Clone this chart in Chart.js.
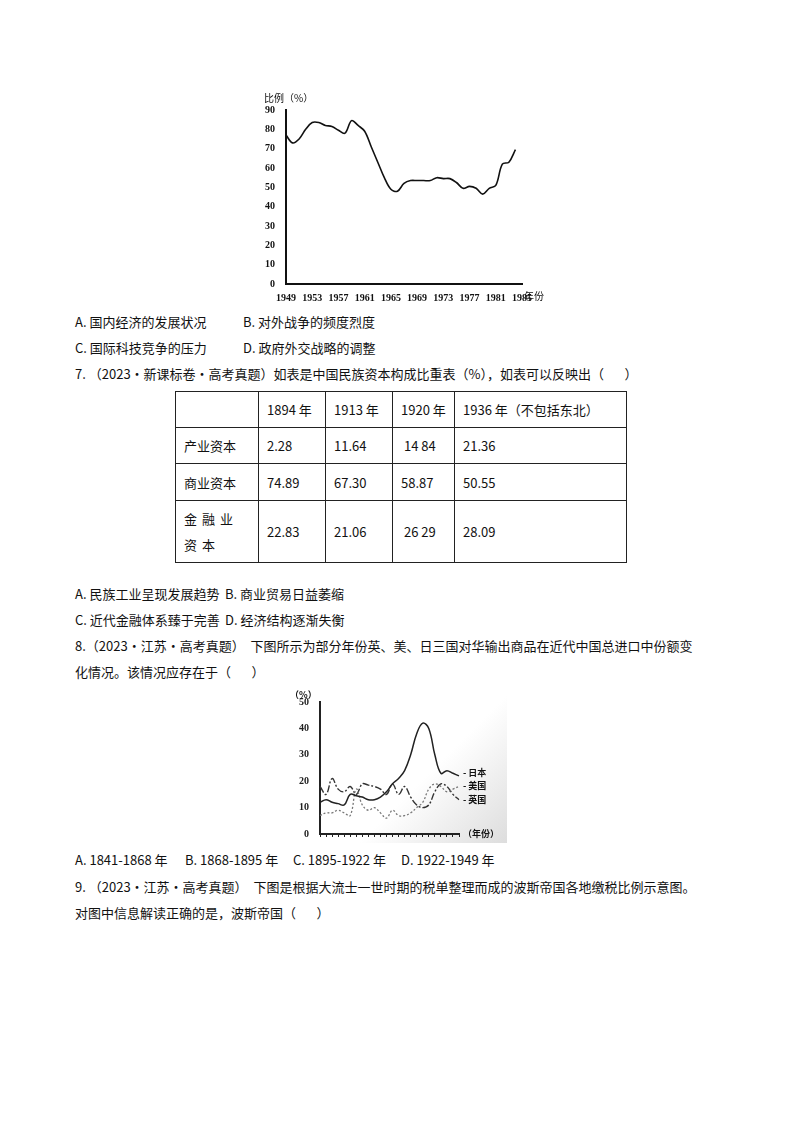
<!DOCTYPE html>
<html><head><meta charset="utf-8">
<script src="https://cdn.jsdelivr.net/npm/chart.js@4"></script>
<style>
body{margin:0;width:800px;height:1132px;background:#fff;font-family:"Noto Sans CJK SC","Noto Sans",sans-serif;font-size:13px;color:#111;position:relative}
.t{position:absolute;white-space:nowrap}
.t span{display:inline-block}
table{position:absolute;left:175px;top:391px;border-collapse:collapse}
td{border:1px solid #222;padding:0 8px;font-size:13px;vertical-align:middle}
</style></head><body>
<div style="position:absolute;left:262px;top:92px;width:290px;height:212px"><canvas id="c1"></canvas></div>
<div class="t" style="left:75px;top:312px"><span style="width:168px">A. 国内经济的发展状况</span>B. 对外战争的频度烈度</div>
<div class="t" style="left:75px;top:338px"><span style="width:168px">C. 国际科技竞争的压力</span>D. 政府外交战略的调整</div>
<div class="t" style="left:75px;top:364px">7. （2023·新课标卷·高考真题）如表是中国民族资本构成比重表（%），如表可以反映出（&nbsp;&nbsp;&nbsp;&nbsp;&nbsp;&nbsp;&nbsp;）</div>
<table>
<tr style="height:36px"><td style="width:66px"></td><td style="width:50px">1894 年</td><td style="width:50px">1913 年</td><td style="width:45px">1920 年</td><td style="width:155px">1936 年（不包括东北）</td></tr>
<tr style="height:36px"><td>产业资本</td><td>2.28</td><td>11.64</td><td>&nbsp;14 84</td><td>21.36</td></tr>
<tr style="height:37px"><td>商业资本</td><td>74.89</td><td>67.30</td><td>58.87</td><td>50.55</td></tr>
<tr style="height:62px"><td style="line-height:26px;letter-spacing:5px">金融业资本</td><td>22.83</td><td>21.06</td><td>&nbsp;26 29</td><td>28.09</td></tr>
</table>
<div class="t" style="left:75px;top:584px"><span style="width:150px">A. 民族工业呈现发展趋势</span>B. 商业贸易日益萎缩</div>
<div class="t" style="left:75px;top:610px"><span style="width:150px">C. 近代金融体系臻于完善</span>D. 经济结构逐渐失衡</div>
<div class="t" style="left:75px;top:636px">8.（2023·江苏·高考真题）&nbsp;&nbsp;下图所示为部分年份英、美、日三国对华输出商品在近代中国总进口中份额变</div>
<div class="t" style="left:75px;top:662px">化情况。该情况应存在于（&nbsp;&nbsp;&nbsp;&nbsp;&nbsp;&nbsp;&nbsp;）</div>
<div style="position:absolute;left:292px;top:688px;width:215px;height:155px;background:linear-gradient(135deg,#fff 60%,#ddd 100%)"><canvas id="c2"></canvas></div>
<div class="t" style="left:75px;top:850px"><span style="width:110px">A. 1841-1868 年</span><span style="width:108px">B. 1868-1895 年</span><span style="width:108px">C. 1895-1922 年</span>D. 1922-1949 年</div>
<div class="t" style="left:75px;top:877px">9. （2023·江苏·高考真题）&nbsp;&nbsp;下图是根据大流士一世时期的税单整理而成的波斯帝国各地缴税比例示意图。</div>
<div class="t" style="left:75px;top:903px">对图中信息解读正确的是，波斯帝国（&nbsp;&nbsp;&nbsp;&nbsp;&nbsp;&nbsp;&nbsp;）</div>
<script>
const years1=[1949,1950,1951,1952,1953,1954,1955,1956,1957,1958,1959,1960,1961,1962,1963,1964,1965,1966,1967,1968,1969,1970,1971,1972,1973,1974,1975,1976,1977,1978,1979,1980,1981,1982,1983,1984];
const ratio1=[77,73,75,80,83.5,83.5,82,81.5,79.5,78,84.5,82,79,71,63,55,49,48,52,53.5,53.5,53.5,53.5,55,54.5,54.5,52.5,49.5,50.5,49.5,46.5,49.5,51,62,63,69.5];
const xTicks1=[1949,1953,1957,1961,1965,1969,1973,1977,1981,1985];
const idx2=[0,1,2,3,4,5,6,7,8,9,10,11,12,13,14,15,16,17,18,19,20,21,22,23];
const japan=[12,13,12,11.5,11,15,14.5,14,13,13,14,16,19,21,24,30,38,42,40,30,23,24,23,22];
const usa=[7,8,8,9,8,7,17,11,9,10,8,6,9,7,7,8,10,12,17,19,18,16,17,18];
const uk=[18,15,21,17,16,18,15,19,18.5,18,17,15,19,15,18,14,11,10,11,16,19,18,15,13];
const names2=['日本','美国','英国'];
const f={family:'"Liberation Serif",serif',size:10,weight:'bold'};
new Chart(document.getElementById('c1'),{type:'line',
data:{datasets:[{data:years1.map((x,i)=>({x,y:ratio1[i]})),borderColor:'#111',borderWidth:1.6,pointRadius:0,tension:0.35}]},
options:{responsive:true,maintainAspectRatio:false,animation:false,plugins:{legend:{display:false},tooltip:{enabled:false}},
layout:{padding:{top:18,right:30}},
scales:{x:{type:'linear',min:1949,max:1985,afterBuildTicks:a=>{a.ticks=xTicks1.map(v=>({value:v}));},ticks:{font:f,color:'#111',maxRotation:0,padding:0,callback:v=>v},grid:{display:false},border:{color:'#111',width:2}},
y:{min:0,max:90,ticks:{stepSize:10,font:f,color:'#111'},grid:{display:false},border:{color:'#111',width:2}}}},
plugins:[{id:'lbl',afterDraw(c){const x=c.ctx;x.save();x.font='10px "Noto Sans CJK SC"';x.fillStyle='#111';x.fillText('比例（%）',c.scales.y.left+2,10);x.fillText('年份',c.chartArea.right+2,c.scales.x.top+16);x.restore();}}]});
new Chart(document.getElementById('c2'),{type:'line',
data:{labels:idx2,datasets:[
{label:names2[0],data:japan,borderColor:'#222',borderWidth:1.5,pointRadius:0,tension:0.4},
{label:names2[1],data:usa,borderColor:'#777',borderWidth:1.3,borderDash:[2,2],pointRadius:0,tension:0.4},
{label:names2[2],data:uk,borderColor:'#333',borderWidth:1.4,borderDash:[7,2,2,2],pointRadius:0,tension:0.4}]},
options:{responsive:true,maintainAspectRatio:false,animation:false,plugins:{legend:{display:false},tooltip:{enabled:false}},
layout:{padding:{top:14,right:48,left:4}},
scales:{x:{ticks:{display:false},grid:{drawOnChartArea:false,tickLength:3,color:'#222'},border:{color:'#222',width:2}},
y:{min:0,max:50,ticks:{stepSize:10,font:f,color:'#222'},grid:{display:false},border:{color:'#222',width:2}}}},
plugins:[{id:'lb2',afterDraw(c){const x=c.ctx;x.save();x.font='bold 9px "Noto Sans CJK SC"';x.fillStyle='#111';x.fillText('（%）',c.scales.y.left-6,10);
const ys=[23,18,13];names2.forEach((n,i)=>x.fillText('- '+n,c.chartArea.right+4,c.scales.y.getPixelForValue(ys[i])+3));
x.fillText('（年份）',c.chartArea.right+4,c.chartArea.bottom+3);x.restore();}}]});
</script>
</body></html>
